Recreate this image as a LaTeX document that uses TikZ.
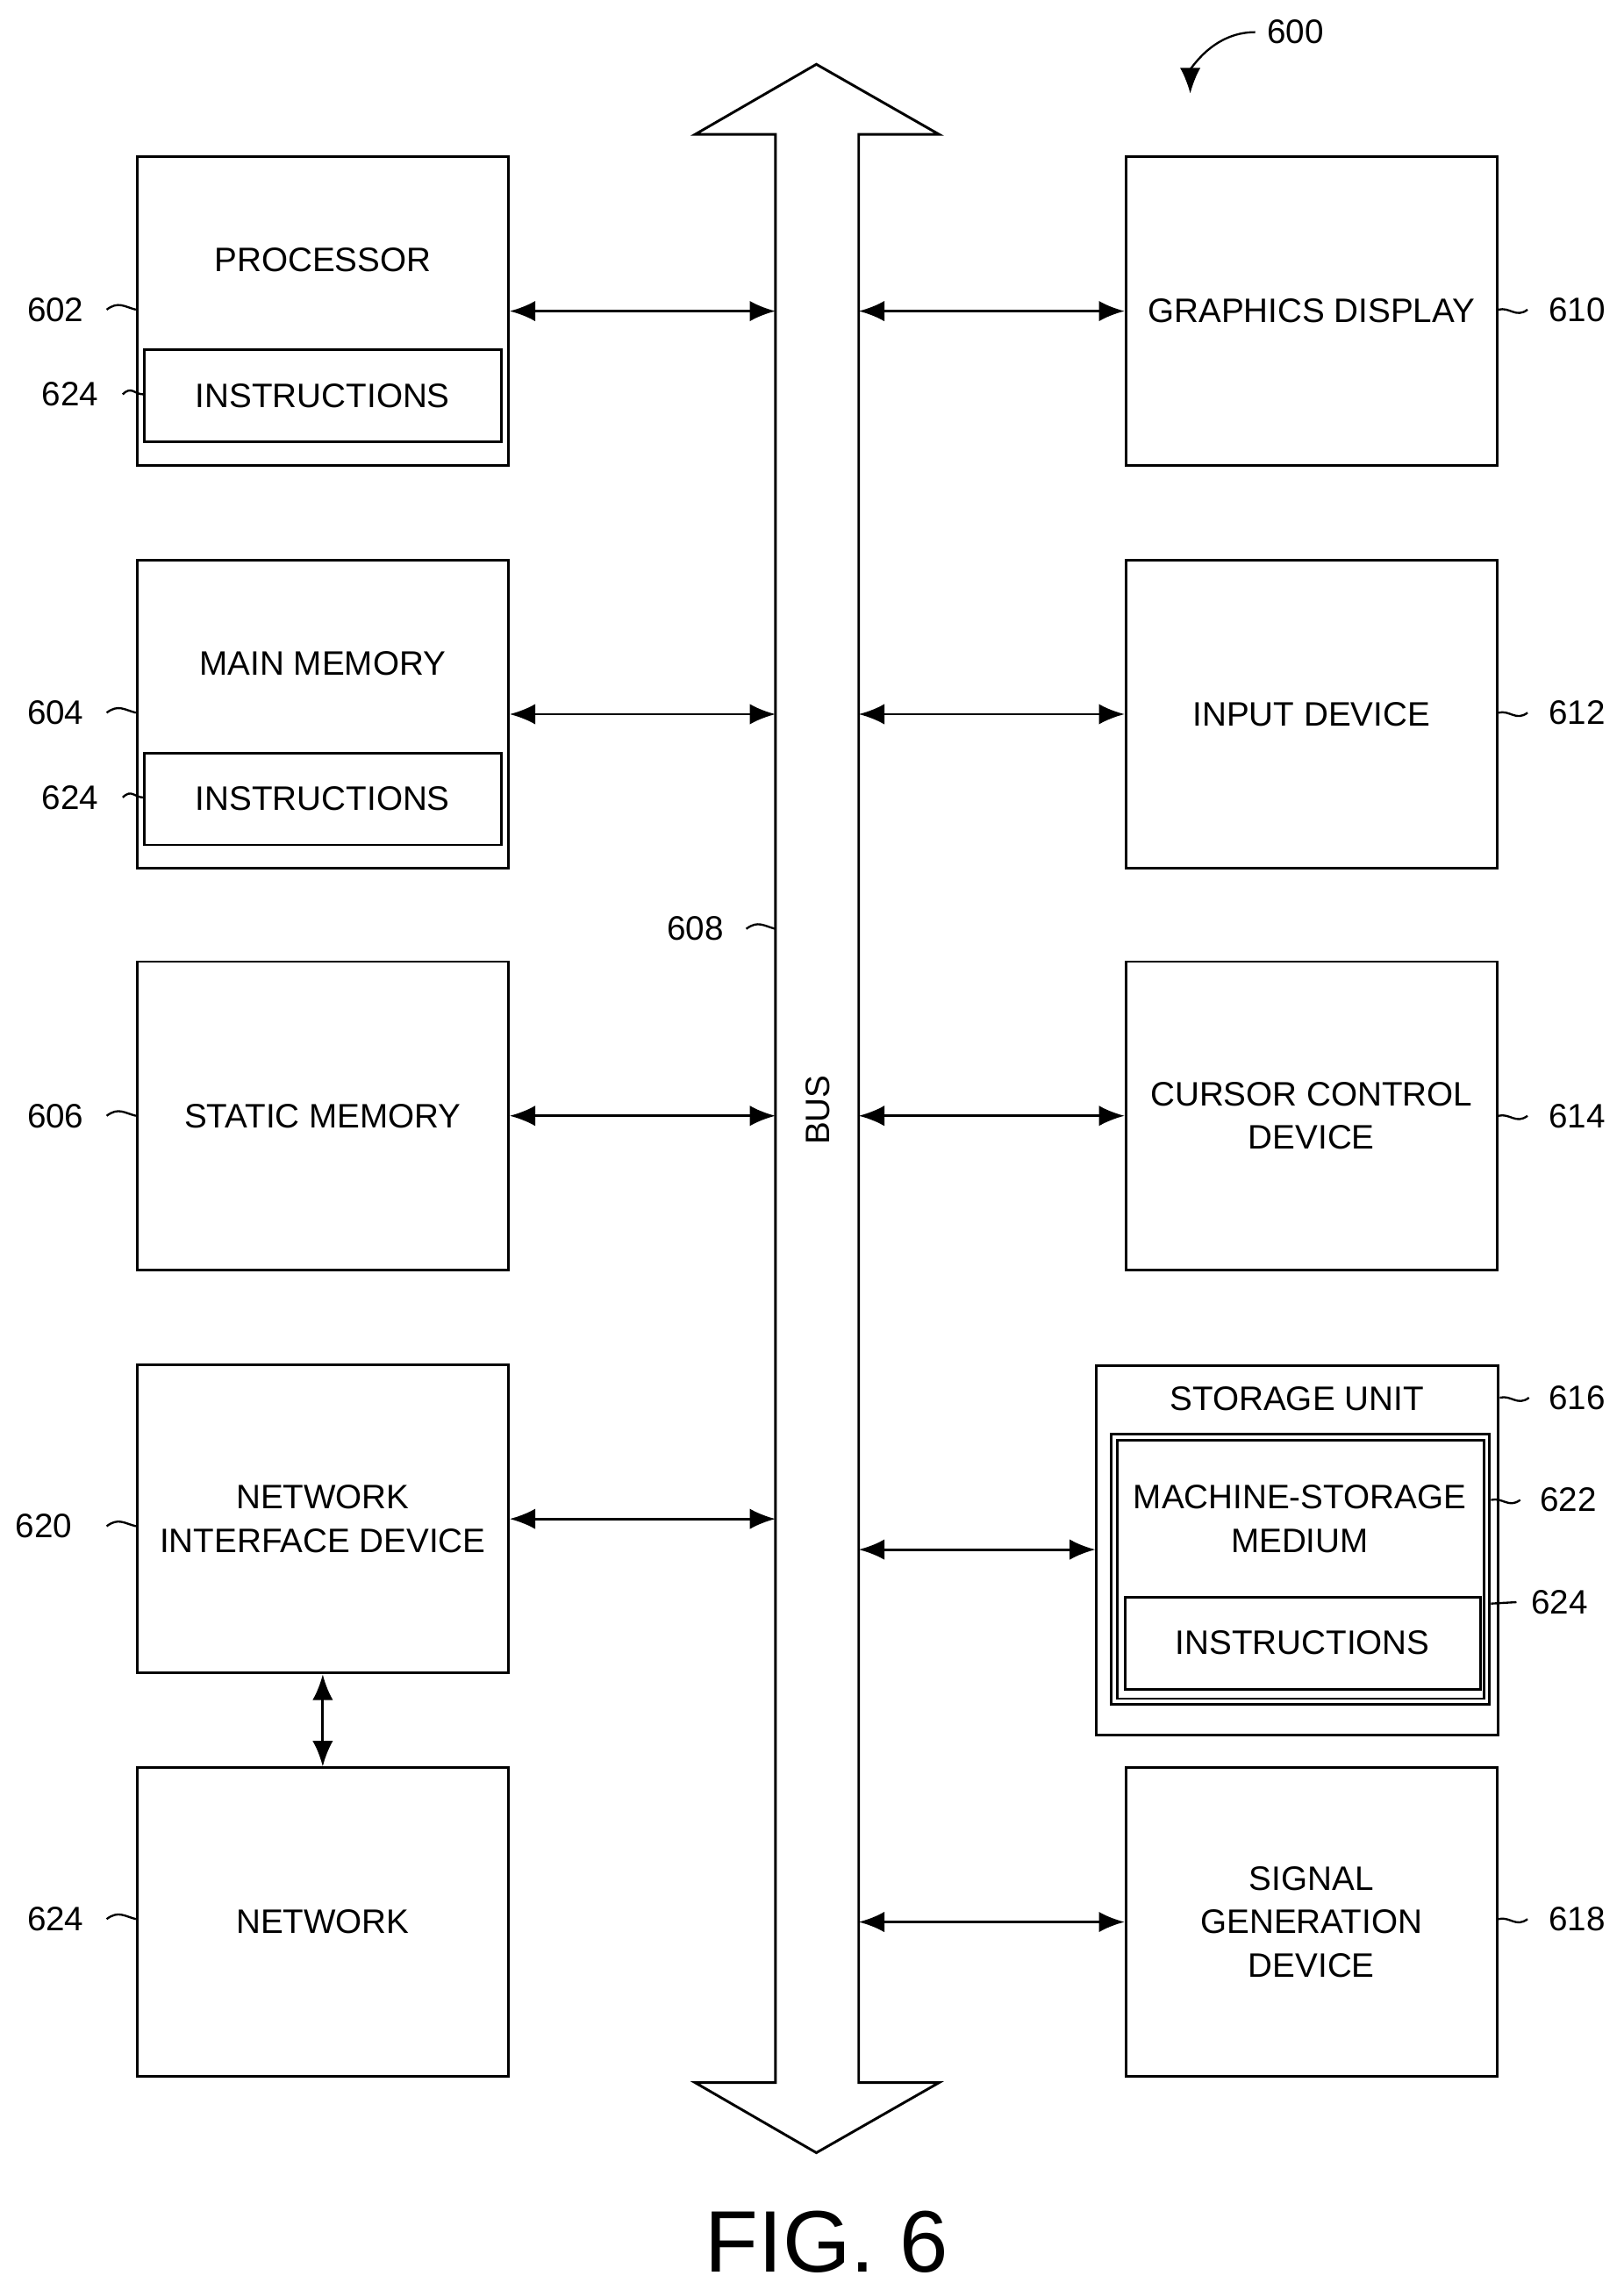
\documentclass[tikz,border=0pt]{standalone}
\usepackage{fontspec}
\setmainfont{Liberation Sans}
\usetikzlibrary{positioning,arrows.meta}
\begin{document}
\begin{tikzpicture}[x=0.01cm,y=-0.01cm,
  every node/.style={font=\fontsize{6.6}{8.4}\selectfont,align=center},
  blk/.style={draw,line width=0.5pt,inner sep=0pt,minimum width=2.54cm,minimum height=2.11cm},
  inbox/.style={draw,line width=0.5pt,inner sep=0pt,minimum width=2.44cm,minimum height=0.63cm},
  link/.style={{Latex[length=5pt,width=4pt]}-{Latex[length=5pt,width=4pt]},line width=0.5pt},
  lead/.style={line width=0.4pt},
  num/.style={inner sep=1pt}]
\useasboundingbox (0,0) rectangle (1112,1568);
% bus
\draw[line width=0.5pt] (531,1426) -- (531,92) -- (476,92) -- (559,44) -- (643,92) -- (588,92)
  -- (588,1426) -- (643,1426) -- (559,1474) -- (476,1426) -- cycle;
\node[rotate=90] (bus) at (560,760) {BUS};
\coordinate (busL) at (531,0);
\coordinate (busR) at (588,0);
% left column
\node[blk] (proc) at (221,213) {};
\node at (221,178) {PROCESSOR};
\node[inbox] (ins1) at (221,271) {INSTRUCTIONS};
\node[blk] (mm) at (221,489) {};
\node at (221,454) {MAIN MEMORY};
\node[inbox] (ins2) at (221,547) {INSTRUCTIONS};
\node[blk] (sm) at (221,764) {STATIC MEMORY};
\node[blk] (nid) at (221,1040) {NETWORK\\INTERFACE DEVICE};
\node[blk] (net) at (221,1316) {NETWORK};
% right column
\node[blk] (gd) at (898,213) {GRAPHICS DISPLAY};
\node[blk] (inp) at (898,489) {INPUT DEVICE};
\node[blk] (ccd) at (898,764) {CURSOR CONTROL\\DEVICE};
\node[blk,minimum width=2.75cm,minimum height=2.53cm] (su) at (888.5,1061.5) {};
\node at (888,958) {STORAGE UNIT};
\node[blk,minimum width=2.59cm,minimum height=1.85cm] (msm) at (890.5,1074.5) {};
\node[blk,minimum width=2.51cm,minimum height=1.77cm] (msmi) at (890.5,1074.5) {};
\node at (890,1040) {MACHINE-STORAGE\\MEDIUM};
\node[inbox,minimum width=2.43cm] (ins3) at (892,1125) {INSTRUCTIONS};
\node[blk] (sgd) at (898,1316) {SIGNAL\\GENERATION\\DEVICE};
% connectors
\foreach \b/\y in {proc/213,mm/489,sm/764,nid/1040}
  \draw[link] (\b.east |- 0,\y) -- (busL |- 0,\y);
\foreach \b/\y in {gd/213,inp/489,ccd/764,sgd/1316}
  \draw[link] (busR |- 0,\y) -- (\b.west |- 0,\y);
\draw[link] (busR |- 0,1061) -- (su.west |- 0,1061);
\draw[link] (nid.south) -- (net.north);
% reference numerals
\foreach \n/\x/\y/\b in {602/38/212/proc,604/38/488/mm,606/38/764/sm,620/30/1045/nid,624/38/1314/net}{
  \node[num] (l\n\b) at (\x,\y) {\n};
  \draw[lead] ([xshift=-2mm]\b.west |- l\n\b) .. controls +(8,-6) and +(-8,-2) .. (\b.west |- l\n\b);}
\foreach \n/\y/\b in {624/270/ins1,624/546/ins2}{
  \node[num] (l\n\b) at (48,\y) {\n};
  \draw[lead] ([xshift=-1.4mm]\b.west |- l\n\b) .. controls +(6,-6) and +(-6,0) .. (\b.west |- l\n\b);}
\foreach \n/\x/\y/\b in {610/1080/212/gd,612/1080/488/inp,614/1080/764/ccd,616/1080/957/su,622/1074/1027/msm,618/1080/1314/sgd}{
  \node[num] (l\n\b) at (\x,\y) {\n};
  \draw[lead] (\b.east |- l\n\b) .. controls +(8,-2) and +(-8,6) .. ([xshift=2mm]\b.east |- l\n\b);}
\node[num] (l624ins3) at (1068,1097) {624};
\draw[lead] (msm.east |- 0,1098) -- ([xshift=-0.6mm]l624ins3.west);
\node[num] (l608) at (476,636) {608};
\draw[lead] ([xshift=-2mm]busL |- l608) .. controls +(8,-6) and +(-8,-2) .. (busL |- l608);
\node[num] (l600) at (887,22) {600};
\coordinate (t600) at (815,64);
\draw[lead,-{Latex[length=5pt,width=4pt]}] ([xshift=-0.4mm]l600.west) .. controls +(-30,0) and +(0,-15) .. (t600);
\node[font=\fontsize{17}{20}\selectfont] (fig) at (566,1535) {FIG. 6};
\end{tikzpicture}
\end{document}
